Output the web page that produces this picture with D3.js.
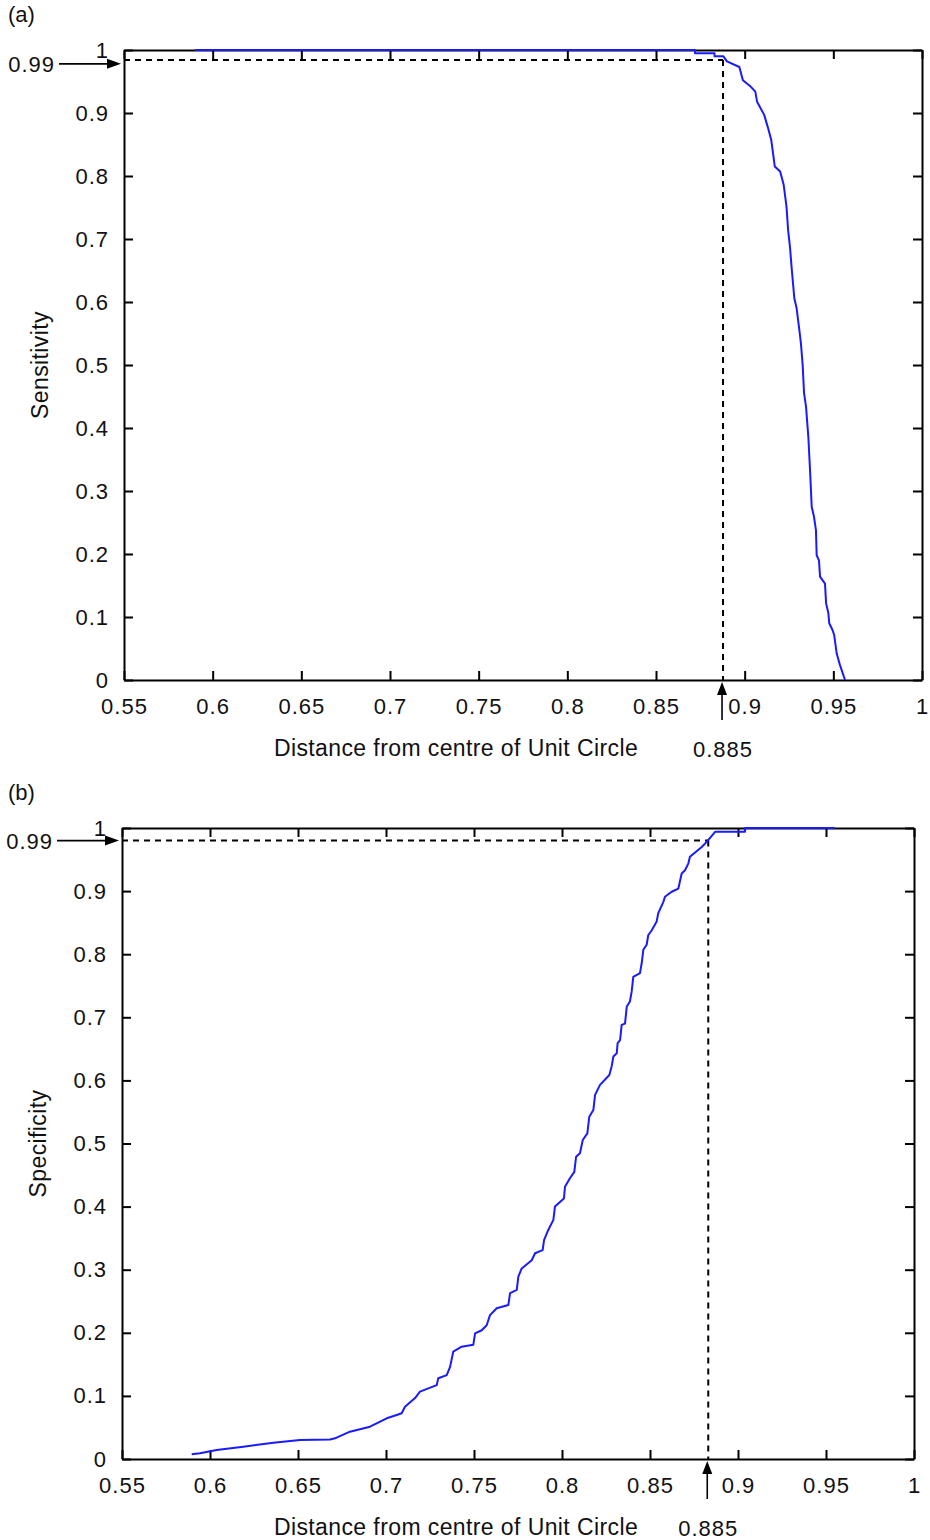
<!DOCTYPE html>
<html><head><meta charset="utf-8">
<script src="https://cdn.jsdelivr.net/npm/d3@7"></script>
<style>
html,body{margin:0;padding:0;background:#fff;}
svg{display:block;}
text{font-family:"Liberation Sans",Arial,Helvetica,sans-serif;fill:#111;}
</style></head><body>
<svg id="chart" width="930" height="1540"></svg>
<script>
// ---------- data ----------
const xTickValues = [0.55, 0.6, 0.65, 0.7, 0.75, 0.8, 0.85, 0.9, 0.95, 1];
const xTickLabels = ["0.55", "0.6", "0.65", "0.7", "0.75", "0.8", "0.85", "0.9", "0.95", "1"];
const yTickValues = [0, 0.1, 0.2, 0.3, 0.4, 0.5, 0.6, 0.7, 0.8, 0.9, 1];
const yTickLabels = ["0", "0.1", "0.2", "0.3", "0.4", "0.5", "0.6", "0.7", "0.8", "0.9", "1"];

const panelTitles = ["(a)", "(b)"];
const yAxisTitles = ["Sensitivity", "Specificity"];
const xAxisTitle = "Distance from centre of Unit Circle";
const levelText = "0.99";
const thresholdText = "0.885";

// guide positions (panel a, panel b)
const guideDistance = [0.8878, 0.8831];
const guideLevel = [0.984, 0.980];
const arrowLevel = [0.978, 0.980];

const sensitivityDistance = [0.59, 0.872, 0.872, 0.883, 0.883, 0.888, 0.890, 0.897, 0.899, 0.903, 0.906, 0.907,
  0.911, 0.913, 0.915, 0.917, 0.920, 0.922, 0.9236, 0.9245, 0.9256, 0.9265, 0.928, 0.9293, 0.9306, 0.9317,
  0.9327, 0.9335, 0.9346, 0.9359, 0.9369, 0.9378, 0.9391, 0.9402, 0.9406, 0.9419, 0.9425, 0.9453, 0.9459,
  0.9472, 0.9477, 0.9496, 0.9505, 0.9519, 0.9537, 0.9566];
const sensitivityValue = [1, 1, 0.995, 0.995, 0.990, 0.990, 0.982, 0.973, 0.952, 0.943, 0.934, 0.918,
  0.897, 0.878, 0.857, 0.815, 0.807, 0.786, 0.751, 0.714, 0.686, 0.654, 0.606, 0.590, 0.561, 0.535,
  0.5, 0.455, 0.434, 0.386, 0.331, 0.275, 0.259, 0.238, 0.198, 0.190, 0.164, 0.153, 0.122,
  0.106, 0.090, 0.079, 0.071, 0.042, 0.024, 0];

const specificityDistance = [0.5896, 0.5943, 0.6038, 0.6189, 0.6360, 0.6511, 0.6682, 0.6710, 0.6795, 0.6909,
  0.7004, 0.7061, 0.7089, 0.7108, 0.7165, 0.7193, 0.7288, 0.7297, 0.7345, 0.7364, 0.7382, 0.7430, 0.7496,
  0.7506, 0.7544, 0.7572, 0.7591, 0.7629, 0.7695, 0.7705, 0.7743, 0.7752, 0.7771, 0.7828, 0.7847, 0.7890,
  0.7898, 0.7922, 0.7951, 0.7960, 0.8011, 0.8017, 0.8045, 0.8070, 0.8080, 0.8102, 0.8118, 0.8144, 0.8155,
  0.8178, 0.8188, 0.8216, 0.8269, 0.8282, 0.8292, 0.8311, 0.8316, 0.8330, 0.8339, 0.8358, 0.8368, 0.8386,
  0.8396, 0.8405, 0.8443, 0.8453, 0.8462, 0.8481, 0.8490, 0.8510, 0.8538, 0.8547, 0.8576, 0.8585, 0.8623,
  0.8661, 0.8680, 0.8699, 0.8718, 0.8727, 0.8794, 0.8822, 0.887, 0.904, 0.904, 0.955];
const specificityValue = [0.0075, 0.009, 0.0143, 0.0195, 0.0258, 0.030, 0.031, 0.0328, 0.0433, 0.0512,
  0.0645, 0.0697, 0.0724, 0.0829, 0.0966, 0.1067, 0.117, 0.128, 0.133, 0.146, 0.170, 0.178, 0.181,
  0.199, 0.204, 0.212, 0.228, 0.239, 0.244, 0.263, 0.268, 0.289, 0.302, 0.315, 0.326, 0.331,
  0.347, 0.363, 0.379, 0.400, 0.413, 0.4315, 0.445, 0.455, 0.479, 0.4845, 0.5055, 0.516, 0.5425,
  0.553, 0.577, 0.593, 0.6086, 0.622, 0.638, 0.643, 0.659, 0.664, 0.688, 0.690, 0.717, 0.725,
  0.741, 0.764, 0.770, 0.786, 0.807, 0.815, 0.830, 0.838, 0.852, 0.865, 0.883, 0.891, 0.899,
  0.904, 0.928, 0.933, 0.944, 0.9545, 0.970, 0.978, 0.994, 0.994, 1, 1];

// ---------- layout ----------
const panels = [
  { left: 124, right: 922, top: 50, bottom: 680, xs: sensitivityDistance, ys: sensitivityValue },
  { left: 122, right: 914, top: 828, bottom: 1459, xs: specificityDistance, ys: specificityValue }
];
const FS = 22;
const LS = "1px";
const svg = d3.select("#chart");

panels.forEach((p, i) => {
  const x = d3.scaleLinear().domain([0.55, 1]).range([p.left, p.right]);
  const y = d3.scaleLinear().domain([0, 1]).range([p.bottom, p.top]);
  const g = svg.append("g");

  const styleAxis = sel => {
    sel.select(".domain").attr("stroke", "#000").attr("stroke-width", 2);
    sel.selectAll(".tick line").attr("stroke", "#000").attr("stroke-width", 2);
    sel.selectAll(".tick text").attr("font-size", FS).attr("fill", "#111")
      .attr("letter-spacing", LS)
      .attr("font-family", '"Liberation Sans",Arial,sans-serif');
  };

  // bottom axis
  g.append("g").attr("transform", `translate(0,${p.bottom})`)
    .call(d3.axisBottom(x).tickValues(xTickValues).tickFormat((d, k) => xTickLabels[k])
      .tickSize(-9).tickSizeOuter(0).tickPadding(18))
    .call(styleAxis);
  // top axis
  g.append("g").attr("transform", `translate(0,${p.top})`)
    .call(d3.axisTop(x).tickValues(xTickValues).tickFormat("").tickSize(-9).tickSizeOuter(0))
    .call(styleAxis);
  // left axis
  g.append("g").attr("transform", `translate(${p.left},0)`)
    .call(d3.axisLeft(y).tickValues(yTickValues).tickFormat((d, k) => yTickLabels[k])
      .tickSize(-9).tickSizeOuter(0).tickPadding(15))
    .call(styleAxis);
  // right axis
  g.append("g").attr("transform", `translate(${p.right},0)`)
    .call(d3.axisRight(y).tickValues(yTickValues).tickFormat("").tickSize(-9).tickSizeOuter(0))
    .call(styleAxis);

  // dashed guides
  const gx = x(guideDistance[i]), gy = y(guideLevel[i]);
  g.append("line").attr("x1", p.left).attr("x2", gx).attr("y1", gy).attr("y2", gy)
    .attr("stroke", "#000").attr("stroke-width", 2).attr("stroke-dasharray", "6,5");
  g.append("line").attr("x1", gx).attr("x2", gx).attr("y1", gy).attr("y2", p.bottom)
    .attr("stroke", "#000").attr("stroke-width", 2).attr("stroke-dasharray", "6,5");

  // curve
  const pts = p.xs.map((v, k) => [v, p.ys[k]]);
  g.append("path").datum(pts)
    .attr("fill", "none").attr("stroke", "#1a1aff").attr("stroke-width", 2)
    .attr("stroke-linejoin", "round")
    .attr("d", d3.line().x(d => x(d[0])).y(d => y(d[1])));

  // horizontal arrow with 0.99 label
  const ay = y(arrowLevel[i]);
  g.append("line").attr("x1", p.left - 65).attr("x2", p.left - 12).attr("y1", ay).attr("y2", ay)
    .attr("stroke", "#000").attr("stroke-width", 1.6);
  g.append("path").attr("d", `M${p.left - 3},${ay} L${p.left - 17},${ay - 5} L${p.left - 17},${ay + 5} Z`)
    .attr("fill", "#000");
  g.append("text").attr("x", p.left - 69).attr("y", ay).attr("dy", "0.36em")
    .attr("text-anchor", "end").attr("font-size", FS).attr("letter-spacing", LS).text(levelText);

  // vertical arrow with 0.885 label
  g.append("line").attr("x1", gx - 1).attr("x2", gx - 1).attr("y1", p.bottom + 12).attr("y2", p.bottom + 40)
    .attr("stroke", "#000").attr("stroke-width", 1.6);
  g.append("path").attr("d", `M${gx - 1},${p.bottom + 2} L${gx - 6},${p.bottom + 15} L${gx + 4},${p.bottom + 15} Z`)
    .attr("fill", "#000");
  g.append("text").attr("x", gx).attr("y", p.bottom + 77).attr("text-anchor", "middle")
    .attr("font-size", FS).attr("letter-spacing", LS).text(thresholdText);

  // titles
  g.append("text").attr("x", 456).attr("y", p.bottom + 76)
    .attr("text-anchor", "middle").attr("font-size", FS + 1).attr("letter-spacing", "0.4px").text(xAxisTitle);
  g.append("text").attr("transform", `translate(${p.left - 76},${(p.top + p.bottom) / 2}) rotate(-90)`)
    .attr("text-anchor", "middle").attr("font-size", FS + 1).attr("letter-spacing", "0.4px").text(yAxisTitles[i]);
  g.append("text").attr("x", 8).attr("y", p.top - 28).attr("font-size", FS).text(panelTitles[i]);
});
</script>
</body></html>
